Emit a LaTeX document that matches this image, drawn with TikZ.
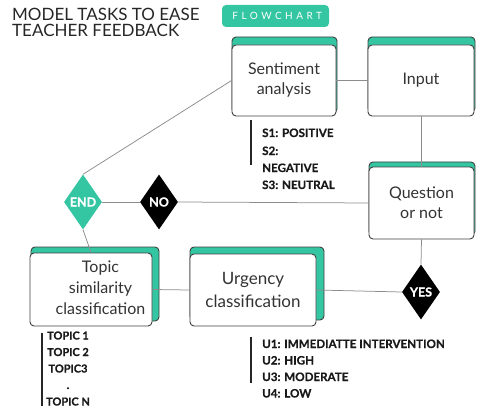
\documentclass[tikz,border=0pt]{standalone}
\usepackage{fontspec}
\setmainfont{Lato}
\newfontfamily\spacedfont{Lato}[LetterSpace=35]
\newfontfamily\heavyfont{Lato}[BoldFeatures={FakeBold=0.6}]
\usetikzlibrary{shapes.geometric}
\definecolor{tealc}{HTML}{34C6A2}
\definecolor{linegray}{HTML}{8C8C8C}
\definecolor{txtgray}{HTML}{333333}
\begin{document}
\begin{tikzpicture}[x=1pt,y=-1pt,
  cardback/.style={draw=black!75,line width=0.9pt,rounded corners=4pt,fill=tealc},
  cardfront/.style={draw=black!75,line width=0.9pt,rounded corners=4pt,fill=white,inner sep=0pt,
     text=txtgray,align=center,font=\fontsize{16}{20}\selectfont},
  cardtext/.style={text=txtgray,align=center,inner sep=0pt,font=\fontsize{16}{21}\selectfont},
  dia/.style={diamond,aspect=0.7,inner sep=0pt,minimum width=38pt,minimum height=55pt,
     text=white,font=\heavyfont\bfseries\fontsize{12.5}{12.5}\selectfont},
  conn/.style={draw=linegray,line width=0.75pt},
  listbar/.style={draw=black!85,line width=1.4pt},
  listtext/.style={anchor=base west,inner sep=0pt,text=black!90,font=\heavyfont\bfseries\fontsize{11.6}{12}\selectfont},
  topictext/.style={anchor=base,inner sep=0pt,text=black!90,font=\heavyfont\bfseries\fontsize{11}{11}\selectfont}]
\useasboundingbox (0,0) rectangle (480,412);
% title and badge
\node[anchor=base west,inner sep=0pt,text=black!85,font=\fontsize{17}{17}\selectfont] (title1) at (12,21) {MODEL TASKS TO EASE};
\node[anchor=base west,inner sep=0pt,text=black!85,font=\fontsize{17}{17}\selectfont] (title2) at (12,37) {TEACHER FEEDBACK};
\node[fill=tealc,rounded corners=4pt,minimum width=107pt,minimum height=22pt,inner sep=0pt,text=white] (badge) at (275.5,16) {\spacedfont\fontsize{10}{10}\selectfont\hspace{3.5pt}FLOWCHART};
% card backs
\draw[cardback] (232,37) rectangle (337,113);
\draw[cardback] (368,37) rectangle (475,112);
\draw[cardback] (369,162) rectangle (475,235);
\draw[cardback] (31,247) rectangle (159,321);
\draw[cardback] (190,247) rectangle (324,320);
% card fronts
\node[cardfront,minimum width=104pt,minimum height=71pt] (senti) at (284,80.5) {Sentiment\\analysis};
\node[cardfront,minimum width=106pt,minimum height=71pt] (input) at (421,80.5) {Input};
\node[cardfront,minimum width=105pt,minimum height=72pt] (quest) at (421.5,203) {Question\\or not};
\node[cardfront,minimum width=122pt,minimum height=73pt] (topic) at (91,289.5) {};
\node[cardtext] (topictxt) at (100.5,288) {Topic\\similarity\\classification};
\node[cardfront,minimum width=126pt,minimum height=72pt,font=\fontsize{17}{23}\selectfont] (urg) at (253,290) {Urgency\\classification};
% diamonds
\node[dia,fill=tealc] (end) at (83,202) {\makebox[0pt]{END}};
\node[dia,fill=black] (no) at (159,202) {\makebox[0pt]{NO}};
\node[dia,fill=black] (yes) at (421,292) {\makebox[0pt]{YES}};
% connectors
\draw[conn] (senti.east) -- (input.west);
\draw[conn] (input.south) -- (input.south |- quest.north);
\draw[conn] (quest.west) -- (no.east);
\draw[conn] (no.west) -- (end.east);
\draw[conn] (end.north) -- (senti.west);
\draw[conn] (end.south) -- (topic.north);
\draw[conn] (topic.east) -- (urg.west);
\draw[conn] (urg.east) -- (yes.west);
\draw[conn] (quest.south) -- (yes.north);
% lists
\draw[listbar] (251,120) -- (251,165);
\node[listtext] (s1) at (262,137) {S1: POSITIVE};
\node[listtext] (s2) at (262,155) {S2:};
\node[listtext] (s2b) at (262,172) {NEGATIVE};
\node[listtext] (s3) at (262,189) {S3: NEUTRAL};
\draw[listbar] (251,337) -- (251,383);
\node[listtext] (u1) at (262,348) {U1: IMMEDIATTE INTERVENTION};
\node[listtext] (u2) at (262,364.5) {U2: HIGH};
\node[listtext] (u3) at (262,381) {U3: MODERATE};
\node[listtext] (u4) at (262,397.5) {U4: LOW};
\draw[listbar] (42,333) -- (42,406);
\node[topictext] (t1) at (68,339.5) {TOPIC 1};
\node[topictext] (t2) at (68,356) {TOPIC 2};
\node[topictext] (t3) at (68,372.5) {TOPIC3};
\node[topictext] (tdot) at (68,389) {.};
\node[topictext] (tn) at (68,405.5) {TOPIC N};
\end{tikzpicture}
\end{document}
